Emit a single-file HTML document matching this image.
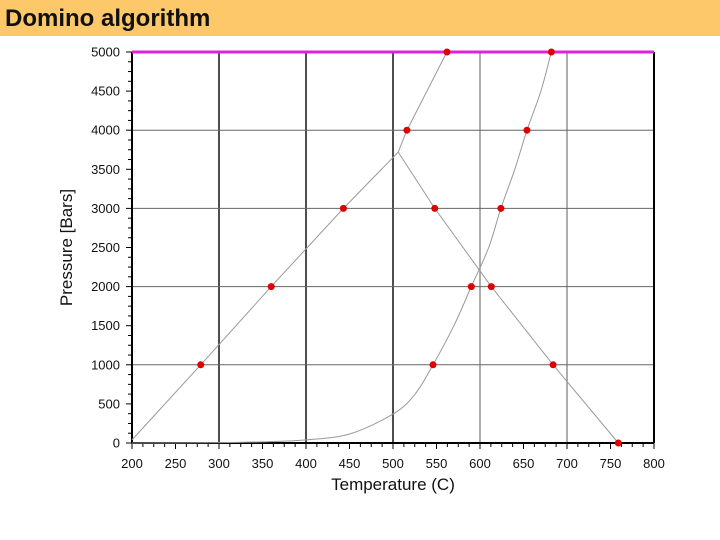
<!DOCTYPE html>
<html><head><meta charset="utf-8"><style>
body{margin:0;width:720px;height:540px;background:#fff;overflow:hidden;font-family:"Liberation Sans",sans-serif}
#title{position:absolute;left:0;top:0;width:720px;height:36px;background:#fcc86a}
#title span{position:absolute;left:5px;top:5px;font-size:24px;font-weight:bold;color:#111}
svg{position:absolute;left:0;top:0}
</style></head><body>
<div id="title"><span>Domino algorithm</span></div>
<svg id="chart" width="720" height="540"></svg>
<script>
const xTicks=[200,250,300,350,400,450,500,550,600,650,700,750,800];
const yTicks=[0,500,1000,1500,2000,2500,3000,3500,4000,4500,5000];
const line1T=[200,279,360,443,506,516,562];
const line1P=[40,1000,2000,3000,3720,4000,5000];
const line2T=[506,548,613,684,759];
const line2P=[3720,3000,2000,1000,0];
const curveT=[200,300,350,400,450,500,525,546,570,590,610,624,640,654,670,682];
const curveP=[0,5,15,40,115,370,620,1000,1500,2000,2500,3000,3500,4000,4500,5000];
const ptsT=[279,360,443,516,562,548,613,684,759,546,590,624,654,682];
const ptsP=[1000,2000,3000,4000,5000,3000,2000,1000,0,1000,2000,3000,4000,5000];
const X0=132,X1=654,Y0=443,Y1=52;
const sx=t=>X0+(t-200)/600*(X1-X0);
const sy=p=>Y0-p/5000*(Y0-Y1);
const svg=document.getElementById('chart');const NS='http://www.w3.org/2000/svg';
function mk(tag,at,name){const e=document.createElementNS(NS,tag);for(const k in at)e.setAttribute(k,at[k]);


svg.appendChild(e);return e;}
[300,400,500].forEach(t=>mk('line',{x1:sx(t),x2:sx(t),y1:Y1,y2:Y0,stroke:'#222','stroke-width':1.6},'grid-x-'+t));
[600,700].forEach(t=>mk('line',{x1:sx(t),x2:sx(t),y1:Y1,y2:Y0,stroke:'#777','stroke-width':1.2},'grid-x-'+t));
[1000,2000,3000,4000].forEach(p=>mk('line',{x1:X0,x2:X1,y1:sy(p),y2:sy(p),stroke:'#666','stroke-width':1},'grid-y-'+p));
mk('line',{x1:X0,x2:X0,y1:Y1,y2:Y0,stroke:'#000','stroke-width':2},'y-axis');
mk('line',{x1:X0,x2:X1,y1:Y0,y2:Y0,stroke:'#000','stroke-width':2},'x-axis');
mk('line',{x1:X1,x2:X1,y1:Y1,y2:Y0,stroke:'#000','stroke-width':2},'right-border');
for(let t=200;t<=800;t+=12.5){const maj=(t%50===0);mk('line',{x1:sx(t),x2:sx(t),y1:Y0,y2:Y0+(maj?6:4),stroke:'#000','stroke-width':1},'x-tick');}
for(let p=0;p<=5000;p+=125){const maj=(p%500===0);mk('line',{x1:X0-(maj?6:4),x2:X0,y1:sy(p),y2:sy(p),stroke:'#000','stroke-width':1},'y-tick');}
xTicks.forEach(t=>{const e=mk('text',{x:sx(t),y:Y0+25,'text-anchor':'middle','font-size':13,fill:'#111'},'x-tick-label');e.textContent=t;});
yTicks.forEach(p=>{const e=mk('text',{x:X0-12,y:sy(p)+4.5,'text-anchor':'end','font-size':13,fill:'#111'},'y-tick-label');e.textContent=p;});
let e=mk('text',{x:(X0+X1)/2,y:Y0+47,'text-anchor':'middle','font-size':17,fill:'#111'},'x-axis-title');e.textContent='Temperature (C)';
e=mk('text',{x:0,y:0,'text-anchor':'middle','font-size':17,fill:'#111',transform:`translate(72,${(Y0+Y1)/2}) rotate(-90)`},'y-axis-title');e.textContent='Pressure [Bars]';
mk('line',{x1:X0,x2:X1,y1:sy(5000),y2:sy(5000),stroke:'#e020e0','stroke-width':3},'pressure-limit-line');
function poly(T,P,name){mk('polyline',{points:T.map((t,i)=>sx(t)+','+sy(P[i])).join(' '),fill:'none',stroke:'#999','stroke-width':1},name);}
poly(line1T,line1P,'reaction-line-1');poly(line2T,line2P,'reaction-line-2');
(function(){const p=curveT.map((t,i)=>[sx(t),sy(curveP[i])]);let d='M'+p[0][0]+','+p[0][1];
for(let i=0;i<p.length-1;i++){const a=p[i-1]||p[i],b=p[i],c=p[i+1],q=p[i+2]||c;
d+=` C${b[0]+(c[0]-a[0])/6},${b[1]+(c[1]-a[1])/6} ${c[0]-(q[0]-b[0])/6},${c[1]-(q[1]-b[1])/6} ${c[0]},${c[1]}`;}
mk('path',{d:d,fill:'none',stroke:'#999','stroke-width':1},'reaction-curve');})();
ptsT.forEach((t,i)=>mk('circle',{cx:sx(t),cy:sy(ptsP[i]),r:3.5,fill:'#e00000'},'data-point'));
</script>
</body></html>
